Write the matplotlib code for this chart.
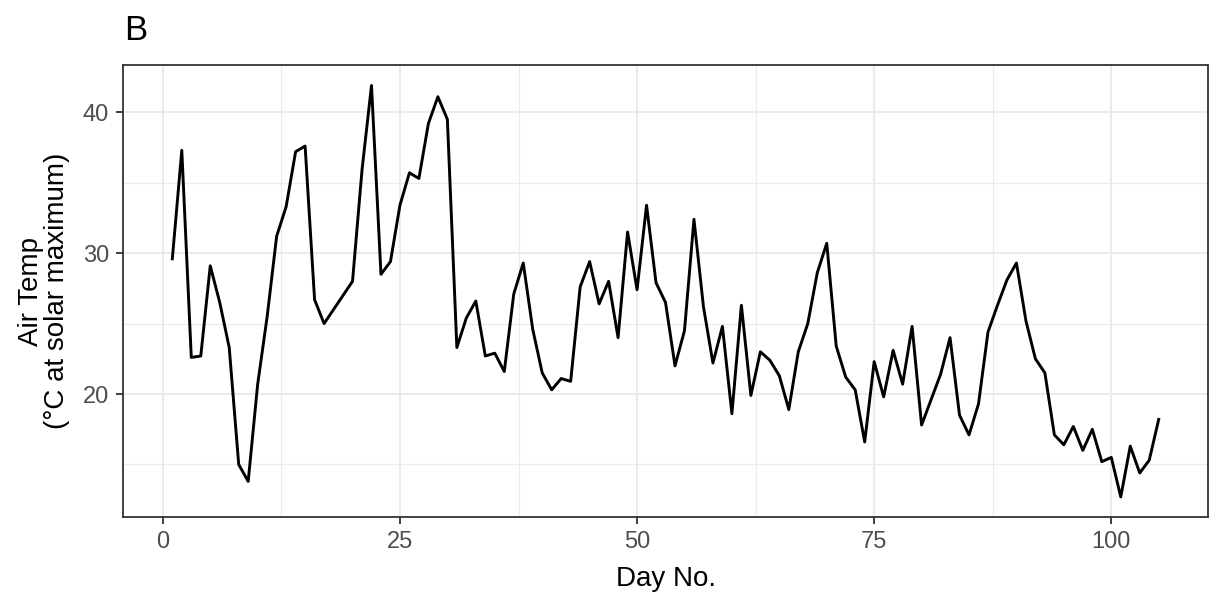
import matplotlib
matplotlib.use("Agg")
import matplotlib.pyplot as plt
from matplotlib.ticker import MultipleLocator

# days 18 and 19 are not in the series; the line joins 17 to 20
days = [1, 2, 3, 4, 5, 6, 7, 8, 9, 10, 11, 12, 13, 14, 15, 16, 17, 20,
        21, 22, 23, 24, 25, 26, 27, 28, 29, 30, 31, 32, 33, 34, 35, 36, 37, 38, 39, 40,
        41, 42, 43, 44, 45, 46, 47, 48, 49, 50, 51, 52, 53, 54, 55, 56, 57, 58, 59, 60,
        61, 62, 63, 64, 65, 66, 67, 68, 69, 70, 71, 72, 73, 74, 75, 76, 77, 78, 79, 80,
        81, 82, 83, 84, 85, 86, 87, 88, 89, 90, 91, 92, 93, 94, 95, 96, 97, 98, 99, 100,
        101, 102, 103, 104, 105]
air_temp = [29.6, 37.3, 22.6, 22.7, 29.1, 26.5, 23.3, 15.0, 13.8, 20.7,
            25.5, 31.2, 33.3, 37.2, 37.6, 26.7, 25.0, 28.0,
            35.9, 41.9, 28.5, 29.4, 33.4, 35.7, 35.3, 39.2, 41.1, 39.5, 23.3, 25.4,
            26.6, 22.7, 22.9, 21.6, 27.1, 29.3, 24.6, 21.5,
            20.3, 21.1, 20.9, 27.6, 29.4, 26.4, 28.0, 24.0, 31.5, 27.4, 33.4, 27.9,
            26.5, 22.0, 24.5, 32.4, 26.2, 22.2, 24.8, 18.6,
            26.3, 19.9, 23.0, 22.4, 21.3, 18.9, 23.0, 25.0, 28.6, 30.7, 23.4, 21.2,
            20.3, 16.6, 22.3, 19.8, 23.1, 20.7, 24.8, 17.8,
            19.6, 21.4, 24.0, 18.5, 17.1, 19.3, 24.4, 26.3, 28.1, 29.3, 25.2, 22.5,
            21.5, 17.1, 16.4, 17.7, 16.0, 17.5, 15.2, 15.5,
            12.7, 16.3, 14.4, 15.3, 18.2]

x_ticks = [0, 25, 50, 75, 100]
y_ticks = [20, 30, 40]

plt.rcParams["font.family"] = ["Liberation Sans", "DejaVu Sans"]

fig = plt.figure(figsize=(12.13, 6.01), dpi=100)
ax = fig.add_axes([0.1014, 0.139, 0.8945, 0.753])

ax.plot(days, air_temp, color="black", linewidth=2.1, zorder=3)

# ggplot-style 5% expansion
xr = max(days) - min(days)
yr = max(air_temp) - min(air_temp)
ax.set_xlim(min(days) - 0.05 * xr, max(days) + 0.05 * xr)
ax.set_ylim(min(air_temp) - 0.05 * yr, max(air_temp) + 0.05 * yr)

ax.set_xticks(x_ticks)
ax.set_yticks(y_ticks)
ax.xaxis.set_minor_locator(MultipleLocator(12.5))
ax.yaxis.set_minor_locator(MultipleLocator(5))

ax.grid(which="major", color="#EBEBEB", linewidth=1.5, zorder=0)
ax.grid(which="minor", color="#EBEBEB", linewidth=0.8, zorder=0)
ax.set_axisbelow(True)

for s in ax.spines.values():
    s.set_color("#333333")
    s.set_linewidth(1.3)

ax.tick_params(which="major", length=5, width=1.3, color="#333333",
               labelsize=17, labelcolor="#4D4D4D", pad=5)
ax.tick_params(which="minor", length=0)

ax.set_xlabel("Day No.", fontsize=20, labelpad=9)
ax.set_ylabel("Air Temp\n(°C at solar maximum)", fontsize=20, labelpad=9,
              linespacing=1.0)

fig.text(0.102, 0.95, "B", fontsize=25, ha="left", va="center")

fig.savefig("out.png", dpi=100)
